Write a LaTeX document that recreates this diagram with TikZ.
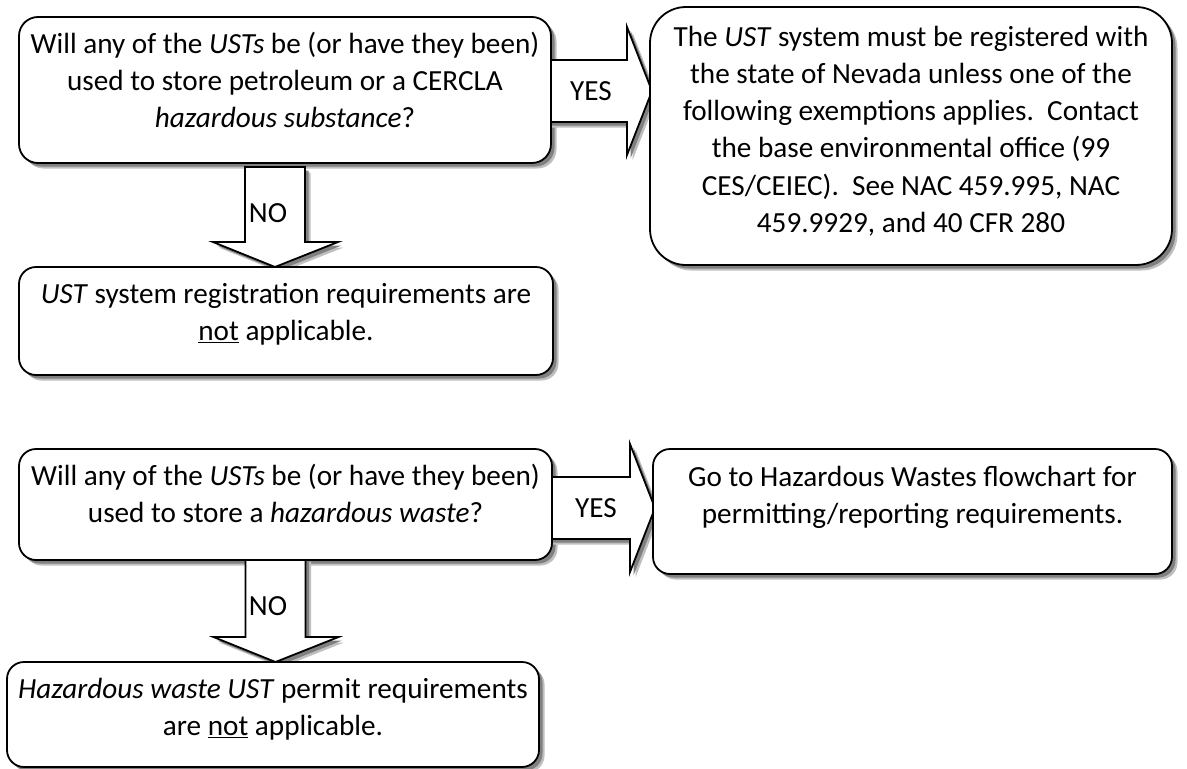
\documentclass[tikz,border=0pt]{standalone}
\usepackage{fontspec}
\setmainfont{Carlito}
\usetikzlibrary{calc}
\pgfdeclarelayer{shadowlayer}
\pgfdeclarelayer{arrowlayer}
\pgfsetlayers{shadowlayer,arrowlayer,main}
\newcommand{\fsz}{\fontsize{29.2}{37.3}\selectfont}
% block arrow pointing right: style, start (axis), tip, shift
\newcommand{\drawR}[4]{%
  \path[#1] ($(#2)+(#4)+(0,-31)$) -- ($(#3)+(#4)+(-25,-31)$) -- ($(#3)+(#4)+(-25,-64)$)
    -- ($(#3)+(#4)$) -- ($(#3)+(#4)+(-25,64)$) -- ($(#3)+(#4)+(-25,31)$)
    -- ($(#2)+(#4)+(0,31)$) -- cycle;}
% block arrow pointing down: style, start (axis), tip, shift
\newcommand{\drawD}[4]{%
  \path[#1] ($(#2)+(#4)+(-30,0)$) -- ($(#3)+(#4)+(-30,-25)$) -- ($(#3)+(#4)+(-62,-25)$)
    -- ($(#3)+(#4)$) -- ($(#3)+(#4)+(63,-25)$) -- ($(#3)+(#4)+(30,-25)$)
    -- ($(#2)+(#4)+(30,0)$) -- cycle;}
\tikzset{
  box/.style={draw=black, line width=1.8pt, fill=white, rectangle, anchor=north west,
    outer sep=0pt, inner sep=0pt},
  txt/.style={text width=620pt, align=flush center, inner sep=0pt, outer sep=0pt, font=\fsz, anchor=base},
  lbl/.style={inner sep=0pt, outer sep=0pt, font=\fsz},
  blockarrow/.style={draw=black, line width=1.8pt, fill=white, line join=miter},
  shadowdark/.style={fill=black!50},
  shadowlight/.style={fill=black!25},
}
\begin{document}
\begin{tikzpicture}[x=1pt,y=-1pt]
\useasboundingbox (0,0) rectangle (1187,769);

% boxes
\node[box, rounded corners=19pt, minimum width=532pt, minimum height=146pt] (q1) at (19,17) {};
\node[box, rounded corners=36pt, minimum width=522pt, minimum height=258pt] (r1) at (650,7) {};
\node[box, rounded corners=17pt, minimum width=534pt, minimum height=108pt] (n1) at (19,267) {};
\node[box, rounded corners=17pt, minimum width=533pt, minimum height=111pt] (q2) at (19,449) {};
\node[box, rounded corners=17pt, minimum width=519pt, minimum height=125pt] (r2) at (653,449) {};
\node[box, rounded corners=17pt, minimum width=532pt, minimum height=105pt] (n2) at (7,662) {};

% texts
\node[txt] (q1t) at ($(q1.north)+(0,36)$) {Will any of the \textit{USTs} be (or have they been)\\ used to store petroleum or a CERCLA\\ \textit{hazardous substance}?};
\node[txt] (r1t) at ($(r1.north)+(0,39)$) {The \textit{UST} system must be registered with\\ the state of Nevada unless one of the\\ following exemptions applies.\ \ Contact\\ the base environmental office (99\\ CES/CEIEC).\ \ See NAC 459.995, NAC\\ 459.9929, and 40 CFR 280};
\node[txt] (n1t) at ($(n1.north)+(0,36)$) {\textit{UST} system registration requirements are\\ \underline{not} applicable.};
\node[txt] (q2t) at ($(q2.north)+(0,36)$) {Will any of the \textit{USTs} be (or have they been)\\ used to store a \textit{hazardous waste}?};
\node[txt] (r2t) at ($(r2.north)+(0,37)$) {Go to Hazardous Wastes flowchart for\\ permitting/reporting requirements.};
\node[txt] (n2t) at ($(n2.north)+(0,36)$) {\textit{Hazardous waste UST} permit requirements\\ are \underline{not} applicable.};

% connector coordinates
\coordinate (yes1s) at ($(q1.east)+(-10,1)$);
\coordinate (yes1w) at (r1.west |- yes1s);
\coordinate (yes1t) at ($(yes1w)+(2,0)$);
\coordinate (yes2s) at ($(q2.east)+(-10,3.5)$);
\coordinate (yes2w) at (r2.west |- yes2s);
\coordinate (yes2t) at ($(yes2w)+(2,0)$);
\coordinate (no1s) at ($(q1.south)+(-10,4)$);
\coordinate (no1t) at (no1s |- n1.north);
\coordinate (no2s) at ($(q2.south)+(-10,-4)$);
\coordinate (no2t) at (no2s |- n2.north);

% shadows
\begin{pgfonlayer}{shadowlayer}
\foreach \n/\r in {q1/19,r1/36,n1/17,q2/17,r2/17,n2/17} {
  \fill[shadowlight, rounded corners=\r pt] ($(\n.north west)+(5.5,5.5)$) rectangle ($(\n.south east)+(5.5,5.5)$);
  \fill[shadowdark, rounded corners=\r pt] ($(\n.north west)+(3.5,3.5)$) rectangle ($(\n.south east)+(3.5,3.5)$);
}
\drawR{shadowlight}{yes1s}{yes1t}{5.5,5.5}
\drawR{shadowdark}{yes1s}{yes1t}{3.5,3.5}
\drawR{shadowlight}{yes2s}{yes2t}{5.5,5.5}
\drawR{shadowdark}{yes2s}{yes2t}{3.5,3.5}
\drawD{shadowlight}{no1s}{no1t}{5.5,5.5}
\drawD{shadowdark}{no1s}{no1t}{3.5,3.5}
\drawD{shadowlight}{no2s}{no2t}{5.5,5.5}
\drawD{shadowdark}{no2s}{no2t}{3.5,3.5}
\end{pgfonlayer}

% block arrows
\begin{pgfonlayer}{arrowlayer}
\drawR{blockarrow}{yes1s}{yes1t}{0,0}
\drawR{blockarrow}{yes2s}{yes2t}{0,0}
\drawD{blockarrow}{no1s}{no1t}{0,0}
\drawD{blockarrow}{no2s}{no2t}{0,0}
\end{pgfonlayer}

% arrow labels
\node[lbl] (yes1) at (591,91) {YES};
\node[lbl] (yes2) at (596,508) {YES};
\node[lbl] (no1) at (268,213) {NO};
\node[lbl] (no2) at (268,606) {NO};
\end{tikzpicture}
\end{document}
